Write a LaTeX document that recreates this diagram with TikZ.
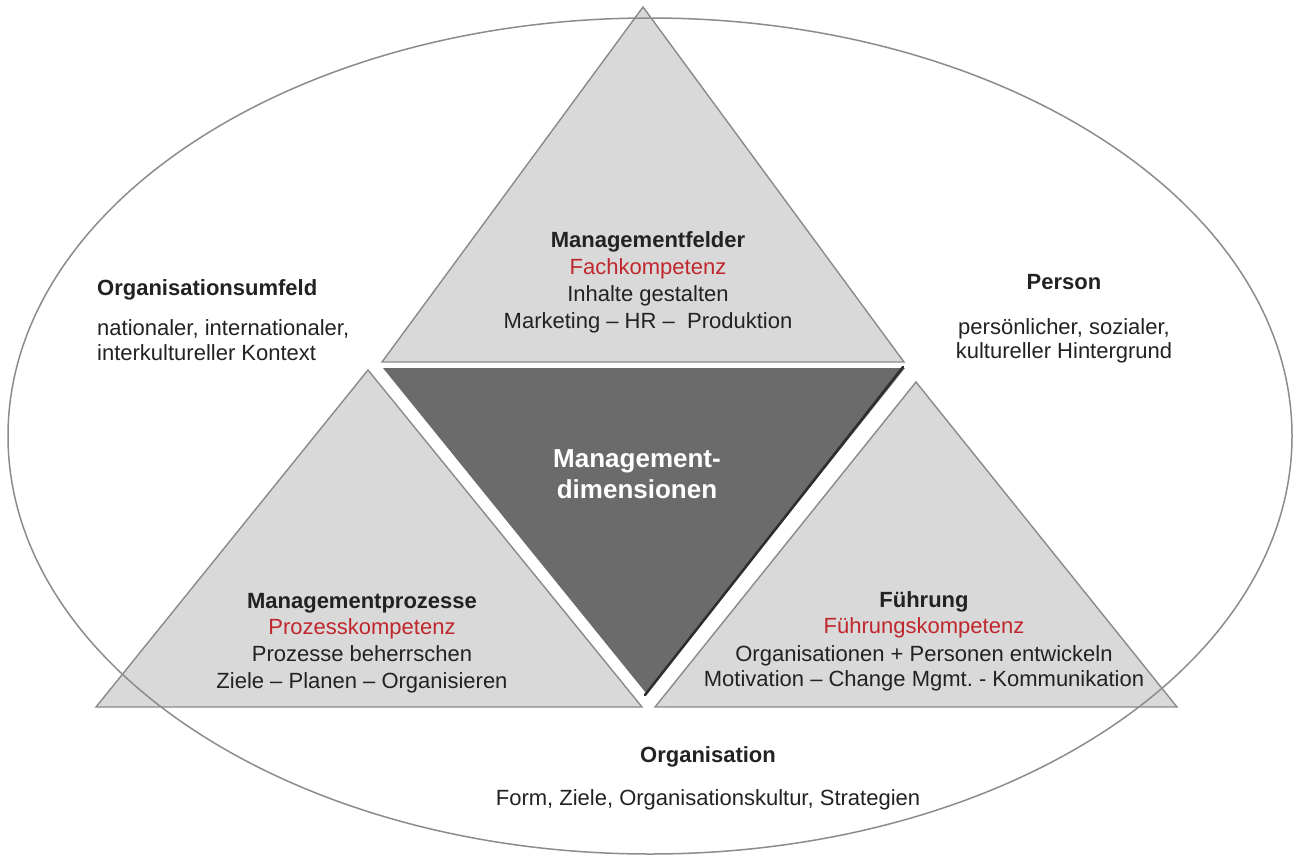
\documentclass[tikz,border=0pt]{standalone}
\usepackage{fontspec}
\setmainfont{Liberation Sans}
\definecolor{lightfill}{HTML}{D9D9D9}
\definecolor{edgegray}{HTML}{8A8A8A}
\definecolor{darkfill}{HTML}{6B6B6B}
\definecolor{shadowgray}{HTML}{2E2E2E}
\definecolor{ringgray}{HTML}{8C8C8C}
\definecolor{txt}{HTML}{222222}
\definecolor{redtxt}{HTML}{C0272D}
\begin{document}
\begin{tikzpicture}[x=1pt,y=-1pt,
  tri/.style={fill=lightfill,draw=edgegray,line width=1.4pt,line join=miter},
  core/.style={fill=darkfill},
  ring/.style={draw=ringgray,line width=1.5pt},
  lbl/.style={font=\fontsize{22}{27}\selectfont,text=txt,inner sep=0pt,anchor=base},
  ttl/.style={lbl,font=\fontsize{22}{27}\selectfont\bfseries},
  komp/.style={lbl,text=redtxt},
  centre/.style={lbl,font=\fontsize{26}{32}\selectfont\bfseries,text=white}]
\useasboundingbox (0,0) rectangle (1295,856);
\fill[white] (0,0) rectangle (1295,856);

% the three light triangles
\coordinate (tA) at (643,7);
\coordinate (tL) at (382,362);
\coordinate (tR) at (904,362);
\draw[tri] (tA) -- (tL) -- (tR) -- cycle;

\coordinate (lA) at (368,370);
\coordinate (lL) at (96,707);
\coordinate (lR) at (642,707);
\draw[tri] (lA) -- (lL) -- (lR) -- cycle;

\coordinate (rA) at (916,382);
\coordinate (rL) at (655,707);
\coordinate (rR) at (1177,707);
\draw[tri] (rA) -- (rL) -- (rR) -- cycle;

% the dark inverted triangle in the middle
\coordinate (cL) at (383,368);
\coordinate (cR) at (905,368);
\coordinate (cB) at (646,693);
\fill[core] (cL) -- (cR) -- (cB) -- cycle;
\draw[shadowgray,line width=2.5pt,line cap=round] ([xshift=-2pt,yshift=1pt]cR) -- ([xshift=-1pt,yshift=-2pt]cB);

% surrounding ellipse
\draw[ring] (650,436) ellipse [x radius=642pt,y radius=418pt];

% texts of the upper triangle
\node[ttl]  (mf1) at (648,247) {Managementfelder};
\node[komp] (mf2) at (648,274) {Fachkompetenz};
\node[lbl]  (mf3) at (648,301) {Inhalte gestalten};
\node[lbl]  (mf4) at (648,328) {Marketing – HR –\ \ Produktion};

% environment on the left
\node[ttl,anchor=base west] (ou1) at (97,295) {Organisationsumfeld};
\node[lbl,anchor=base west] (ou2) at (97,335) {nationaler, internationaler,};
\node[lbl,anchor=base west] (ou3) at (97,360) {interkultureller Kontext};

% person on the right
\node[ttl] (pe1) at (1064,289) {Person};
\node[lbl] (pe2) at (1064,334) {persönlicher, sozialer,};
\node[lbl] (pe3) at (1064,358) {kultureller Hintergrund};

% centre
\node[centre] (md1) at (637,467) {Management-};
\node[centre] (md2) at (637,498) {dimensionen};

% lower left triangle
\node[ttl]  (mp1) at (362,608) {Managementprozesse};
\node[komp] (mp2) at (362,634) {Prozesskompetenz};
\node[lbl]  (mp3) at (362,661) {Prozesse beherrschen};
\node[lbl]  (mp4) at (362,688) {Ziele – Planen – Organisieren};

% lower right triangle
\node[ttl]  (fu1) at (924,607) {Führung};
\node[komp] (fu2) at (924,633) {Führungskompetenz};
\node[lbl]  (fu3) at (924,661) {Organisationen + Personen entwickeln};
\node[lbl]  (fu4) at (924,686) {Motivation – Change Mgmt.\ - Kommunikation};

% organisation at the bottom
\node[ttl] (or1) at (708,762) {Organisation};
\node[lbl] (or2) at (708,805) {Form, Ziele, Organisationskultur, Strategien};
\end{tikzpicture}
\end{document}
